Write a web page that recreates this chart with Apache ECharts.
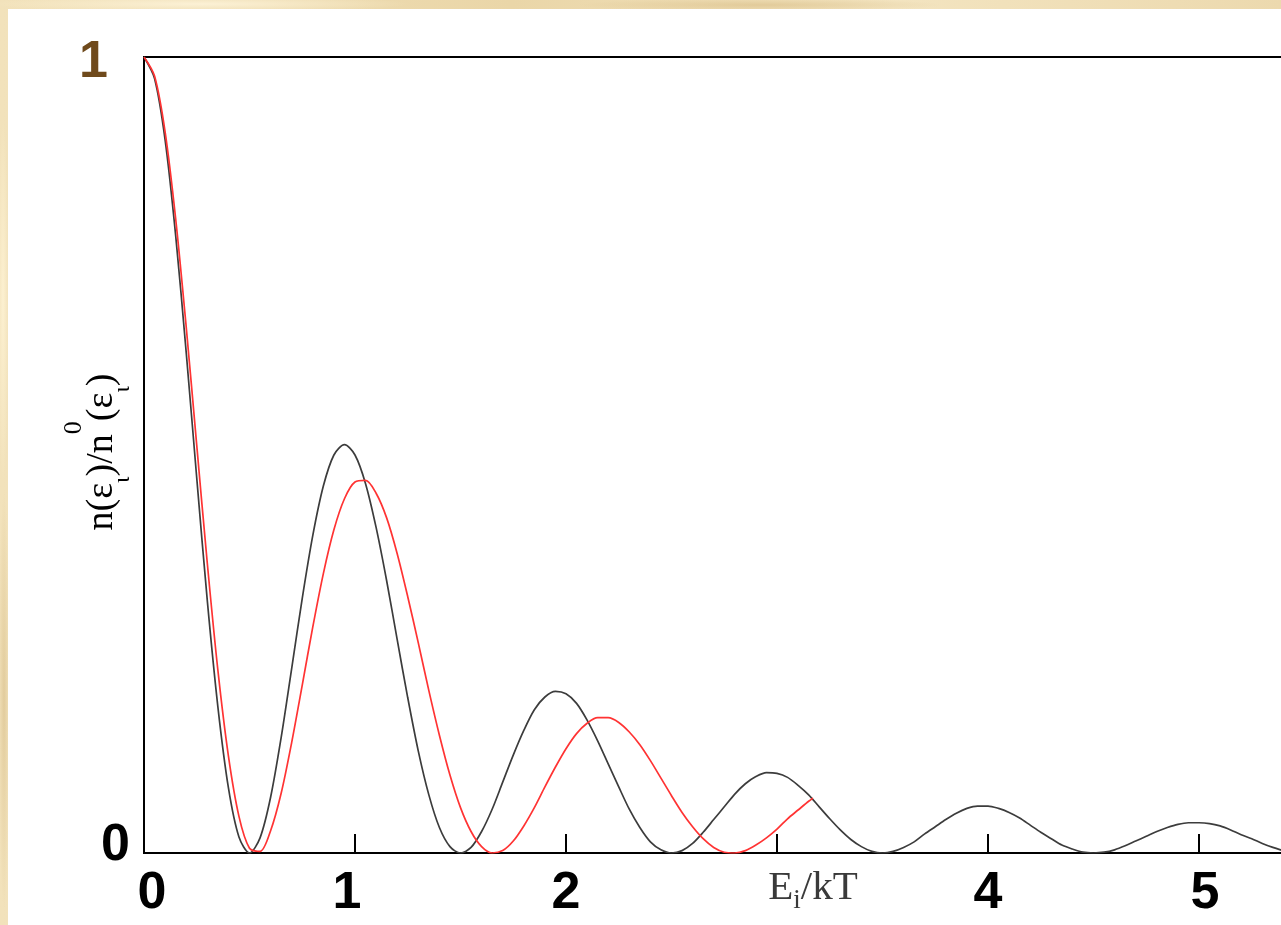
<!DOCTYPE html>
<html>
<head>
<meta charset="utf-8">
<title>n(ε)/n0(ε) vs Ei/kT</title>
<script src="https://cdn.jsdelivr.net/npm/echarts@6/dist/echarts.min.js"></script>
<style>
  html, body {
    margin: 0;
    padding: 0;
    width: 1281px;
    height: 925px;
    overflow: hidden;
    background-color: #efdcb2;
    background-image:
      radial-gradient(ellipse 300px 12px at 200px 4px, rgba(255, 246, 222, 0.8), rgba(255, 246, 222, 0) 70%),
      radial-gradient(ellipse 260px 10px at 760px 5px, rgba(214, 186, 130, 0.55), rgba(214, 186, 130, 0) 70%),
      radial-gradient(ellipse 8px 260px at 3px 300px, rgba(255, 244, 214, 0.8), rgba(255, 244, 214, 0) 70%),
      radial-gradient(ellipse 8px 300px at 4px 700px, rgba(210, 182, 126, 0.5), rgba(210, 182, 126, 0) 70%),
      linear-gradient(90deg, #f2e2bb, #ead6a8 40%, #f3e4c0 70%, #ecd9ae);
  }
  #chart {
    position: absolute;
    left: 8px;
    top: 9px;
    width: 1340px;
    height: 916px;
    background: #ffffff;
  }
</style>
</head>
<body>
<div id="chart"></div>
<script>
// Energy grid (Ei/kT) for the black curve
const energyGrid = [
  0.00, 0.05, 0.10, 0.15, 0.20, 0.25, 0.30, 0.35, 0.40, 0.45, 0.50,
  0.55, 0.60, 0.65, 0.70, 0.75, 0.80, 0.85, 0.90, 0.95, 1.00,
  1.05, 1.10, 1.15, 1.20, 1.25, 1.30, 1.35, 1.40, 1.45, 1.50,
  1.55, 1.60, 1.65, 1.70, 1.75, 1.80, 1.85, 1.90, 1.95, 2.00,
  2.05, 2.10, 2.15, 2.20, 2.25, 2.30, 2.35, 2.40, 2.45, 2.50,
  2.55, 2.60, 2.65, 2.70, 2.75, 2.80, 2.85, 2.90, 2.95, 3.00,
  3.05, 3.10, 3.15, 3.20, 3.25, 3.30, 3.35, 3.40, 3.45, 3.50,
  3.55, 3.60, 3.65, 3.70, 3.75, 3.80, 3.85, 3.90, 3.95, 4.00,
  4.05, 4.10, 4.15, 4.20, 4.25, 4.30, 4.35, 4.40, 4.45, 4.50,
  4.55, 4.60, 4.65, 4.70, 4.75, 4.80, 4.85, 4.90, 4.95, 5.00,
  5.05, 5.10, 5.15, 5.20, 5.25, 5.30, 5.35, 5.40, 5.45, 5.50
];

// Population ratio n(εi)/n0(εi), black curve
const blackRatio = [
  1.000, 0.973, 0.896, 0.776, 0.629, 0.471, 0.317, 0.184, 0.082, 0.020, 0.000,
  0.019, 0.070, 0.145, 0.232, 0.320, 0.399, 0.461, 0.500, 0.513, 0.500,
  0.464, 0.409, 0.342, 0.268, 0.195, 0.128, 0.073, 0.032, 0.008, 0.000,
  0.007, 0.027, 0.055, 0.089, 0.123, 0.154, 0.180, 0.196, 0.203, 0.200,
  0.188, 0.167, 0.141, 0.112, 0.083, 0.055, 0.032, 0.014, 0.004, 0.000,
  0.003, 0.012, 0.026, 0.042, 0.058, 0.074, 0.087, 0.096, 0.101, 0.100,
  0.095, 0.085, 0.073, 0.058, 0.043, 0.029, 0.017, 0.008, 0.002, 0.000,
  0.002, 0.007, 0.014, 0.024, 0.033, 0.042, 0.050, 0.056, 0.059, 0.059,
  0.056, 0.051, 0.044, 0.035, 0.026, 0.018, 0.010, 0.005, 0.001, 0.000,
  0.001, 0.004, 0.009, 0.015, 0.021, 0.027, 0.032, 0.036, 0.038, 0.038,
  0.037, 0.034, 0.029, 0.023, 0.018, 0.012, 0.007, 0.003, 0.001, 0.000
];

// Energy grid for the red curve (stops a little past 3)
const redEnergy = [
  0.00, 0.05, 0.10, 0.15, 0.20, 0.25, 0.30, 0.35, 0.40, 0.45, 0.50,
  0.55, 0.60, 0.65, 0.70, 0.75, 0.80, 0.85, 0.90, 0.95, 1.00,
  1.05, 1.10, 1.15, 1.20, 1.25, 1.30, 1.35, 1.40, 1.45, 1.50,
  1.55, 1.60, 1.65, 1.70, 1.75, 1.80, 1.85, 1.90, 1.95, 2.00,
  2.05, 2.10, 2.15, 2.20, 2.25, 2.30, 2.35, 2.40, 2.45, 2.50,
  2.55, 2.60, 2.65, 2.70, 2.75, 2.80, 2.85, 2.90, 2.95, 3.00,
  3.05, 3.10, 3.15, 3.17
];

// Population ratio n(εi)/n0(εi), red curve
const redRatio = [
  1.000, 0.976, 0.906, 0.797, 0.661, 0.512, 0.364, 0.230, 0.122, 0.046, 0.006,
  0.002, 0.028, 0.075, 0.139, 0.211, 0.284, 0.351, 0.406, 0.445, 0.466,
  0.468, 0.452, 0.421, 0.376, 0.322, 0.264, 0.204, 0.148, 0.098, 0.057,
  0.027, 0.008, 0.000, 0.003, 0.015, 0.034, 0.057, 0.083, 0.108, 0.131,
  0.150, 0.163, 0.170, 0.170, 0.164, 0.152, 0.136, 0.116, 0.094, 0.072,
  0.051, 0.033, 0.018, 0.007, 0.001, 0.000, 0.003, 0.010, 0.019, 0.030,
  0.043, 0.054, 0.065, 0.069
];

// Tick labels along the energy axis (index = tick value); 3 carries the axis title
const xTickLabels = ['0', '1', '2', 'Ei/kT', '4', '5'];
const yTickLabels = ['0', '1'];

const zip = (xs, ys) => xs.map((x, i) => [x, ys[i]]);

const numFont = {
  fontFamily: 'Liberation Sans, Arial, sans-serif',
  fontWeight: 'bold',
  fontSize: 52,
  color: '#000000'
};
const serif = 'Liberation Serif, Times New Roman, serif';
const titleGrey = '#3a3a3a';

const chart = echarts.init(document.getElementById('chart'), null, { renderer: 'canvas' });

chart.setOption({
  animation: false,
  backgroundColor: 'transparent',
  grid: {
    left: 136,
    top: 48,
    width: 1160.5,
    height: 796,
    show: true,
    borderColor: '#000000',
    borderWidth: 2,
    backgroundColor: 'transparent'
  },
  xAxis: {
    type: 'value',
    min: 0,
    max: 5.5,
    interval: 1,
    splitLine: { show: false },
    axisLine: { show: true, lineStyle: { color: '#000000', width: 2 } },
    axisTick: { show: true, inside: true, length: 19, lineStyle: { color: '#000000', width: 2 } },
    axisLabel: {
      margin: 15,
      formatter: function (v) {
        const i = Math.round(v);
        if (Math.abs(v - i) > 1e-6 || i >= xTickLabels.length) return '';
        if (i === 3) return '{ev|E}{es|i}{et|/kT}';
        return '{n' + i + '|' + xTickLabels[i] + '}';
      },
      rich: {
        n0: Object.assign({}, numFont, { padding: [0, 0, 0, 16] }),
        n1: Object.assign({}, numFont, { padding: [0, 16, 0, 0] }),
        n2: Object.assign({}, numFont),
        n4: Object.assign({}, numFont),
        n5: Object.assign({}, numFont, { padding: [0, 0, 0, 12] }),
        ev: { fontFamily: serif, fontSize: 41, color: titleGrey, lineHeight: 26, verticalAlign: 'top', padding: [0, 0, 0, 72] },
        es: { fontFamily: serif, fontSize: 27, color: titleGrey, lineHeight: 46, verticalAlign: 'bottom' },
        et: { fontFamily: serif, fontSize: 41, color: titleGrey, lineHeight: 26, verticalAlign: 'top' }
      }
    }
  },
  yAxis: {
    type: 'value',
    min: 0,
    max: 1,
    interval: 1,
    splitLine: { show: false },
    axisLine: { show: true, lineStyle: { color: '#000000', width: 2 } },
    axisTick: { show: false },
    axisLabel: {
      margin: 14,
      formatter: function (v) {
        const i = Math.round(v);
        return i === 1 ? '{one|' + yTickLabels[1] + '}' : '{zero|' + yTickLabels[0] + '}';
      },
      rich: {
        one: Object.assign({}, numFont, { color: '#6f4a1c', padding: [12, 22, 0, 0] }),
        zero: Object.assign({}, numFont, { padding: [0, 0, 14, 0] })
      }
    }
  },
  graphic: [
    {
      type: 'text',
      x: 90,
      y: 443,
      rotation: Math.PI / 2,
      silent: true,
      style: {
        text: '{n|n(ε}{s|ι}{n|)/n}{p|0}{n|(ε}{s|ι}{n|)}',
        align: 'center',
        verticalAlign: 'middle',
        rich: {
          n: { fontFamily: serif, fontSize: 38, color: '#4a4a4a', verticalAlign: 'top', padding: [22, 0, 0, 0] },
          s: { fontFamily: serif, fontSize: 24, color: '#4a4a4a', verticalAlign: 'top', padding: [49, 0, 0, 0] },
          p: { fontFamily: serif, fontSize: 26, color: '#4a4a4a', verticalAlign: 'top' }
        }
      }
    }
  ],
  series: [
    {
      name: 'black',
      type: 'line',
      data: zip(energyGrid, blackRatio),
      showSymbol: false,
      smooth: 0.3,
      clip: true,
      lineStyle: { color: '#3c3c3c', width: 1.7 }
    },
    {
      name: 'red',
      type: 'line',
      data: zip(redEnergy, redRatio),
      showSymbol: false,
      smooth: 0.3,
      clip: true,
      lineStyle: { color: '#ff3333', width: 1.7 }
    }
  ]
});
</script>
</body>
</html>
